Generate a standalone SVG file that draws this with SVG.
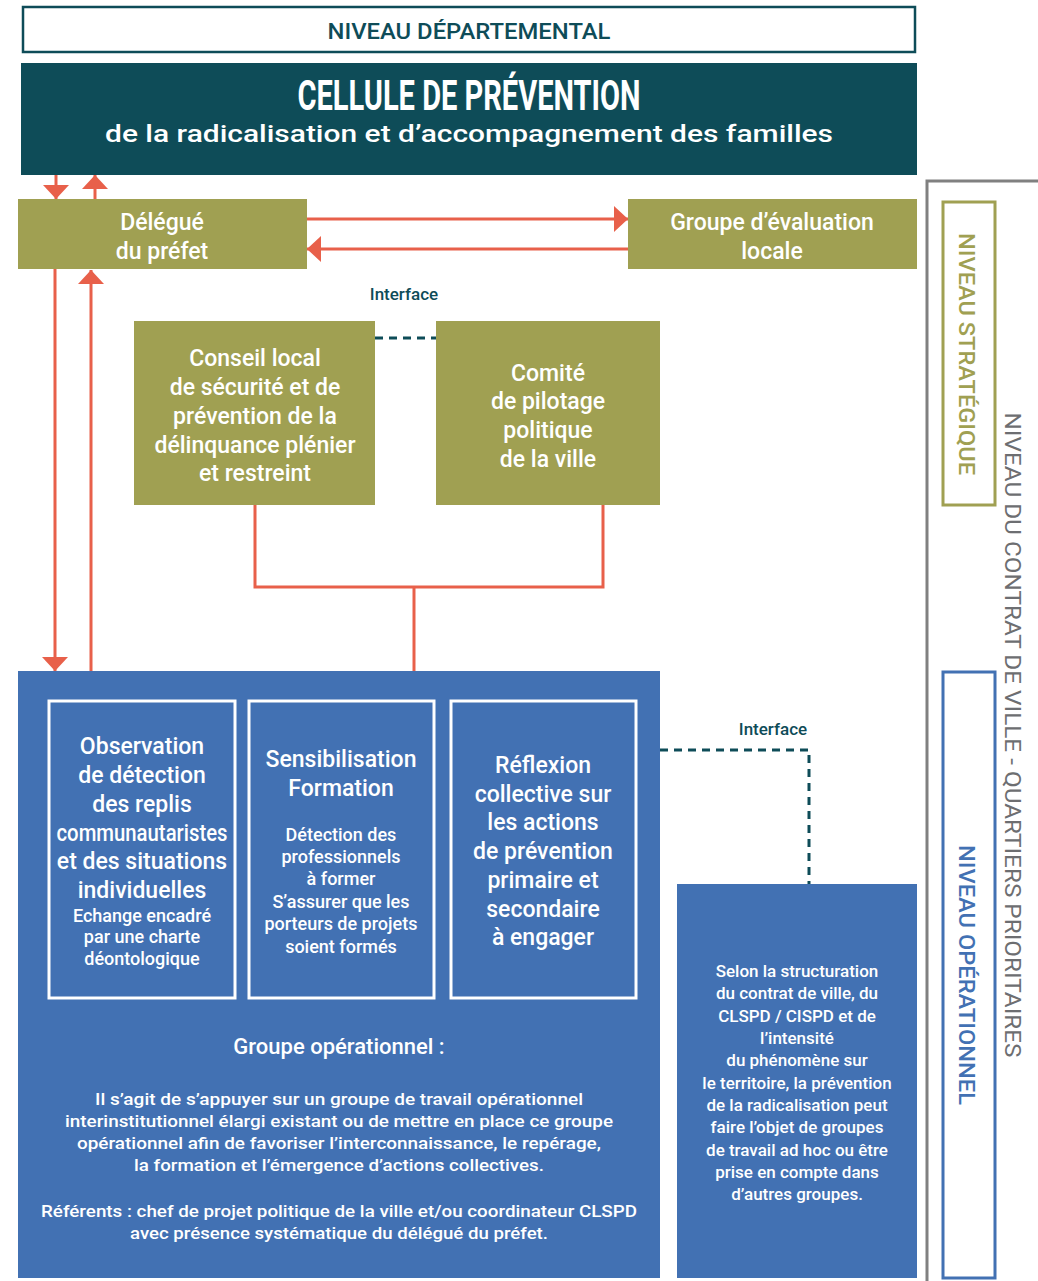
<svg xmlns="http://www.w3.org/2000/svg" width="1038" height="1281" viewBox="0 0 1038 1281">
<defs>
<style>
text{font-family:Roboto,"Liberation Sans",sans-serif;}
.w{fill:#ffffff;text-anchor:middle;font-weight:500;}
.t23{font-size:23px;}
.t18{font-size:18px;}
.t17{font-size:17px;}
.olive{fill:#a0a052;}
.blue{fill:#4271b3;}
.inner{fill:none;stroke:#ffffff;stroke-width:3;}
.red{fill:none;stroke:#e8604a;stroke-width:3;}
.dash{fill:none;stroke:#0e4c58;stroke-width:3;stroke-dasharray:8 6;}
.lbl{fill:#0e4c58;font-size:17px;text-anchor:middle;font-weight:500;}
</style>
<marker id="ah" viewBox="0 0 14 26" refX="14" refY="13" markerWidth="14" markerHeight="26" markerUnits="userSpaceOnUse" orient="auto">
<path d="M0,0 L14,13 L0,26 Z" fill="#e8604a"/>
</marker>
</defs>
<rect width="1038" height="1281" fill="#ffffff"/>

<g id="side-levels">
<path d="M1038,181 H927 V1281" fill="none" stroke="#808080" stroke-width="3"/>
<text transform="translate(1005,735) rotate(90)" text-anchor="middle" font-size="22" fill="#6d6e71" textLength="645" lengthAdjust="spacingAndGlyphs">NIVEAU DU CONTRAT DE VILLE - QUARTIERS PRIORITAIRES</text>
</g>
<g id="niveau-strategique">
<rect x="943" y="202" width="52" height="303" fill="none" stroke="#a0a052" stroke-width="3"/>
<text transform="translate(959,354) rotate(90)" text-anchor="middle" font-size="22" fill="#a0a052" font-weight="500" textLength="242" lengthAdjust="spacingAndGlyphs">NIVEAU STRATÉGIQUE</text>
</g>
<g id="niveau-operationnel">
<rect x="943" y="672" width="52" height="606" fill="none" stroke="#4271b3" stroke-width="3"/>
<text transform="translate(959,975) rotate(90)" text-anchor="middle" font-size="22" fill="#4271b3" font-weight="500" textLength="260" lengthAdjust="spacingAndGlyphs">NIVEAU OPÉRATIONNEL</text>
</g>

<g id="niveau-departemental">
<rect x="23" y="7" width="892" height="45" fill="#ffffff" stroke="#0e4c58" stroke-width="2.5"/>
<text x="469" y="39" text-anchor="middle" font-size="22" fill="#0e4c58" font-weight="500" textLength="283" lengthAdjust="spacingAndGlyphs">NIVEAU DÉPARTEMENTAL</text>
</g>

<g id="cellule">
<rect x="21" y="63" width="896" height="112" fill="#0e4c58"/>
<text x="469" y="110" class="w" font-size="42" font-weight="bold" style="font-weight:bold" textLength="343" lengthAdjust="spacingAndGlyphs">CELLULE DE PRÉVENTION</text>
<text x="469" y="142" class="w" font-size="23" textLength="728" lengthAdjust="spacingAndGlyphs">de la radicalisation et d’accompagnement des familles</text>
</g>

<g id="delegue">
<rect x="18" y="199" width="289" height="70" class="olive"/>
<text x="162" y="230" class="w t23">Délégué</text>
<text x="162" y="259" class="w t23">du préfet</text>
</g>

<g id="groupe-evaluation">
<rect x="628" y="199" width="289" height="70" class="olive"/>
<text x="772" y="230" class="w t23">Groupe d’évaluation</text>
<text x="772" y="259" class="w t23">locale</text>
</g>

<g id="clspd">
<rect x="134" y="321" width="241" height="184" class="olive"/>
<text x="255" y="366" class="w t23">Conseil local</text>
<text x="255" y="395" class="w t23">de sécurité et de</text>
<text x="255" y="424" class="w t23">prévention de la</text>
<text x="255" y="453" class="w t23">délinquance plénier</text>
<text x="255" y="481" class="w t23">et restreint</text>
</g>

<g id="comite">
<rect x="436" y="321" width="224" height="184" class="olive"/>
<text x="548" y="381" class="w t23">Comité</text>
<text x="548" y="409" class="w t23">de pilotage</text>
<text x="548" y="438" class="w t23">politique</text>
<text x="548" y="467" class="w t23">de la ville</text>
</g>

<g id="groupe-operationnel">
<rect x="18" y="671" width="642" height="607" class="blue"/>
<text x="339" y="1054" class="w" font-size="22">Groupe opérationnel :</text>
<text x="339" y="1105" class="w t17" textLength="488" lengthAdjust="spacingAndGlyphs">Il s’agit de s’appuyer sur un groupe de travail opérationnel</text>
<text x="339" y="1127" class="w t17" textLength="548" lengthAdjust="spacingAndGlyphs">interinstitutionnel élargi existant ou de mettre en place ce groupe</text>
<text x="339" y="1149" class="w t17" textLength="524" lengthAdjust="spacingAndGlyphs">opérationnel afin de favoriser l’interconnaissance, le repérage,</text>
<text x="339" y="1171" class="w t17" textLength="410" lengthAdjust="spacingAndGlyphs">la formation et l’émergence d’actions collectives.</text>
<text x="339" y="1217" class="w t17" textLength="596" lengthAdjust="spacingAndGlyphs">Référents : chef de projet politique de la ville et/ou coordinateur CLSPD</text>
<text x="339" y="1239" class="w t17" textLength="418" lengthAdjust="spacingAndGlyphs">avec présence systématique du délégué du préfet.</text>
</g>

<g id="observation">
<rect x="49" y="701" width="186" height="297" class="inner"/>
<text x="142" y="754" class="w t23">Observation</text>
<text x="142" y="783" class="w t23">de détection</text>
<text x="142" y="812" class="w t23">des replis</text>
<text x="142" y="841" class="w t23" textLength="171" lengthAdjust="spacingAndGlyphs">communautaristes</text>
<text x="142" y="869" class="w t23">et des situations</text>
<text x="142" y="898" class="w t23">individuelles</text>
<text x="142" y="922" class="w t18">Echange encadré</text>
<text x="142" y="943" class="w t18">par une charte</text>
<text x="142" y="965" class="w t18">déontologique</text>
</g>

<g id="sensibilisation">
<rect x="249" y="701" width="185" height="297" class="inner"/>
<text x="341" y="767" class="w t23">Sensibilisation</text>
<text x="341" y="796" class="w t23">Formation</text>
<text x="341" y="841" class="w t18">Détection des</text>
<text x="341" y="863" class="w t18">professionnels</text>
<text x="341" y="885" class="w t18">à former</text>
<text x="341" y="908" class="w t18">S’assurer que les</text>
<text x="341" y="930" class="w t18">porteurs de projets</text>
<text x="341" y="953" class="w t18">soient formés</text>
</g>

<g id="reflexion">
<rect x="451" y="701" width="185" height="297" class="inner"/>
<text x="543" y="773" class="w t23">Réflexion</text>
<text x="543" y="802" class="w t23">collective sur</text>
<text x="543" y="830" class="w t23">les actions</text>
<text x="543" y="859" class="w t23">de prévention</text>
<text x="543" y="888" class="w t23">primaire et</text>
<text x="543" y="917" class="w t23">secondaire</text>
<text x="543" y="945" class="w t23">à engager</text>
</g>

<g id="autres-groupes">
<rect x="677" y="884" width="240" height="394" class="blue"/>
<text x="797" y="977" class="w t17">Selon la structuration</text>
<text x="797" y="999" class="w t17">du contrat de ville, du</text>
<text x="797" y="1022" class="w t17">CLSPD / CISPD et de</text>
<text x="797" y="1044" class="w t17">l’intensité</text>
<text x="797" y="1066" class="w t17">du phénomène sur</text>
<text x="797" y="1089" class="w t17">le territoire, la prévention</text>
<text x="797" y="1111" class="w t17">de la radicalisation peut</text>
<text x="797" y="1133" class="w t17">faire l’objet de groupes</text>
<text x="797" y="1156" class="w t17">de travail ad hoc ou être</text>
<text x="797" y="1178" class="w t17">prise en compte dans</text>
<text x="797" y="1200" class="w t17">d’autres groupes.</text>
</g>

<g id="connectors">
<path class="red" d="M56,175 V199" marker-end="url(#ah)"/>
<path class="red" d="M95,199 V175" marker-end="url(#ah)"/>
<path class="red" d="M55,269 V671" marker-end="url(#ah)"/>
<path class="red" d="M91,671 V270" marker-end="url(#ah)"/>
<path class="red" d="M307,219 H628" marker-end="url(#ah)"/>
<path class="red" d="M628,249 H307" marker-end="url(#ah)"/>
<path class="red" d="M255,505 V587 H603 V505"/>
<path class="red" d="M414,587 V671"/>
<path class="dash" d="M375,338 H436"/>
<path class="dash" d="M660,750 H809 V884"/>
<text x="404" y="300" class="lbl">Interface</text>
<text x="773" y="735" class="lbl">Interface</text>
</g>
</svg>
